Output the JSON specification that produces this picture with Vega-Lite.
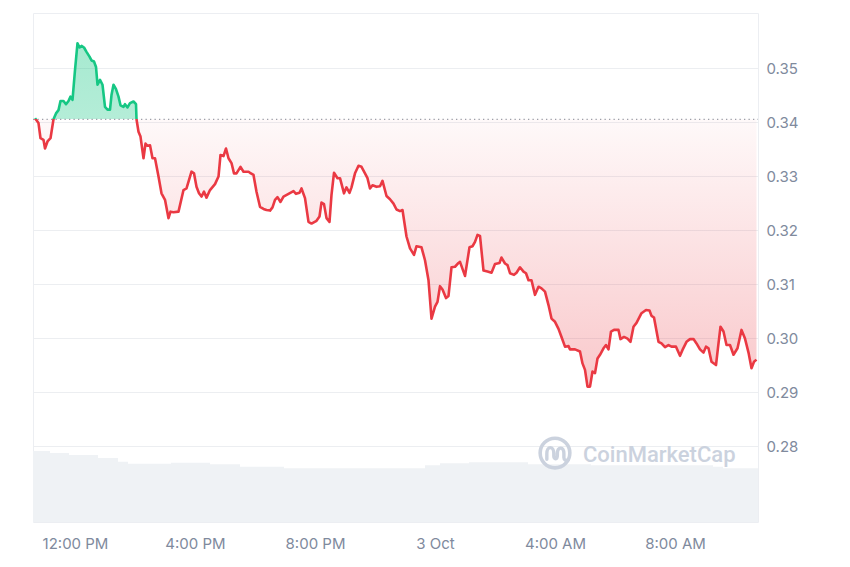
{
  "$schema": "https://vega.github.io/schema/vega-lite/v6.json",
  "width": 725,
  "height": 509,
  "autosize": {"type": "none"},
  "padding": {"left": 33, "top": 13, "right": 92, "bottom": 45},
  "background": "#ffffff",
  "config": {
    "view": {"stroke": "#eceef2", "strokeWidth": 1},
    "font": "Inter",
    "axis": {"labelFont": "Inter", "labelColor": "#808a9d", "labelFontSize": 15, "title": null}
  },
  "datasets": {
    "price": [
      {"t":"2024-10-02T10:40:00Z","p":0.3407},{"t":"2024-10-02T10:47:00Z","p":0.3398},{"t":"2024-10-02T10:51:00Z","p":0.3370},{"t":"2024-10-02T10:57:00Z","p":0.3367},
      {"t":"2024-10-02T11:00:00Z","p":0.3351},{"t":"2024-10-02T11:05:00Z","p":0.3364},{"t":"2024-10-02T11:11:00Z","p":0.3370},{"t":"2024-10-02T11:17:00Z","p":0.3405},
      {"t":"2024-10-02T11:22:00Z","p":0.3416},{"t":"2024-10-02T11:27:00Z","p":0.3422},{"t":"2024-10-02T11:31:00Z","p":0.3439},{"t":"2024-10-02T11:37:00Z","p":0.3439},
      {"t":"2024-10-02T11:42:00Z","p":0.3433},{"t":"2024-10-02T11:47:00Z","p":0.3439},{"t":"2024-10-02T11:51:00Z","p":0.3447},{"t":"2024-10-02T11:55:00Z","p":0.3441},
      {"t":"2024-10-02T12:00:00Z","p":0.3496},{"t":"2024-10-02T12:05:00Z","p":0.3546},{"t":"2024-10-02T12:09:00Z","p":0.3538},{"t":"2024-10-02T12:13:00Z","p":0.3541},
      {"t":"2024-10-02T12:18:00Z","p":0.3538},{"t":"2024-10-02T12:23:00Z","p":0.3530},{"t":"2024-10-02T12:29:00Z","p":0.3521},{"t":"2024-10-02T12:33:00Z","p":0.3514},
      {"t":"2024-10-02T12:38:00Z","p":0.3512},{"t":"2024-10-02T12:42:00Z","p":0.3502},{"t":"2024-10-02T12:45:00Z","p":0.3469},{"t":"2024-10-02T12:50:00Z","p":0.3478},
      {"t":"2024-10-02T12:55:00Z","p":0.3469},{"t":"2024-10-02T13:00:00Z","p":0.3428},{"t":"2024-10-02T13:05:00Z","p":0.3423},{"t":"2024-10-02T13:10:00Z","p":0.3423},
      {"t":"2024-10-02T13:13:00Z","p":0.3450},{"t":"2024-10-02T13:17:00Z","p":0.3469},{"t":"2024-10-02T13:22:00Z","p":0.3461},{"t":"2024-10-02T13:27:00Z","p":0.3447},
      {"t":"2024-10-02T13:31:00Z","p":0.3431},{"t":"2024-10-02T13:37:00Z","p":0.3428},{"t":"2024-10-02T13:40:00Z","p":0.3433},{"t":"2024-10-02T13:45:00Z","p":0.3427},
      {"t":"2024-10-02T13:50:00Z","p":0.3435},{"t":"2024-10-02T13:57:00Z","p":0.3438},{"t":"2024-10-02T14:02:00Z","p":0.3433},{"t":"2024-10-02T14:03:00Z","p":0.3405},
      {"t":"2024-10-02T14:07:00Z","p":0.3382},{"t":"2024-10-02T14:11:00Z","p":0.3373},{"t":"2024-10-02T14:17:00Z","p":0.3333},{"t":"2024-10-02T14:21:00Z","p":0.3360},
      {"t":"2024-10-02T14:25:00Z","p":0.3356},{"t":"2024-10-02T14:30:00Z","p":0.3357},{"t":"2024-10-02T14:35:00Z","p":0.3333},{"t":"2024-10-02T14:40:00Z","p":0.3333},
      {"t":"2024-10-02T14:47:00Z","p":0.3299},{"t":"2024-10-02T14:53:00Z","p":0.3268},{"t":"2024-10-02T15:00:00Z","p":0.3256},{"t":"2024-10-02T15:07:00Z","p":0.3222},
      {"t":"2024-10-02T15:11:00Z","p":0.3234},{"t":"2024-10-02T15:17:00Z","p":0.3233},{"t":"2024-10-02T15:27:00Z","p":0.3234},{"t":"2024-10-02T15:37:00Z","p":0.3274},
      {"t":"2024-10-02T15:43:00Z","p":0.3277},{"t":"2024-10-02T15:53:00Z","p":0.3308},{"t":"2024-10-02T15:58:00Z","p":0.3305},{"t":"2024-10-02T16:03:00Z","p":0.3280},
      {"t":"2024-10-02T16:08:00Z","p":0.3268},{"t":"2024-10-02T16:13:00Z","p":0.3262},{"t":"2024-10-02T16:18:00Z","p":0.3271},{"t":"2024-10-02T16:23:00Z","p":0.3260},
      {"t":"2024-10-02T16:30:00Z","p":0.3274},{"t":"2024-10-02T16:40:00Z","p":0.3285},{"t":"2024-10-02T16:47:00Z","p":0.3299},{"t":"2024-10-02T16:51:00Z","p":0.3339},
      {"t":"2024-10-02T16:57:00Z","p":0.3337},{"t":"2024-10-02T17:02:00Z","p":0.3351},{"t":"2024-10-02T17:07:00Z","p":0.3333},{"t":"2024-10-02T17:13:00Z","p":0.3324},
      {"t":"2024-10-02T17:18:00Z","p":0.3305},{"t":"2024-10-02T17:23:00Z","p":0.3305},{"t":"2024-10-02T17:31:00Z","p":0.3317},{"t":"2024-10-02T17:37:00Z","p":0.3308},
      {"t":"2024-10-02T17:47:00Z","p":0.3308},{"t":"2024-10-02T17:50:00Z","p":0.3306},{"t":"2024-10-02T17:57:00Z","p":0.3302},{"t":"2024-10-02T18:03:00Z","p":0.3271},
      {"t":"2024-10-02T18:10:00Z","p":0.3243},{"t":"2024-10-02T18:17:00Z","p":0.3239},{"t":"2024-10-02T18:23:00Z","p":0.3237},{"t":"2024-10-02T18:30:00Z","p":0.3236},
      {"t":"2024-10-02T18:35:00Z","p":0.3242},{"t":"2024-10-02T18:40:00Z","p":0.3256},{"t":"2024-10-02T18:45:00Z","p":0.3261},{"t":"2024-10-02T18:51:00Z","p":0.3252},
      {"t":"2024-10-02T18:57:00Z","p":0.3262},{"t":"2024-10-02T19:07:00Z","p":0.3267},{"t":"2024-10-02T19:17:00Z","p":0.3272},{"t":"2024-10-02T19:22:00Z","p":0.3267},
      {"t":"2024-10-02T19:29:00Z","p":0.3269},{"t":"2024-10-02T19:33:00Z","p":0.3277},{"t":"2024-10-02T19:40:00Z","p":0.3259},{"t":"2024-10-02T19:47:00Z","p":0.3215},
      {"t":"2024-10-02T19:53:00Z","p":0.3212},{"t":"2024-10-02T20:03:00Z","p":0.3217},{"t":"2024-10-02T20:09:00Z","p":0.3225},{"t":"2024-10-02T20:13:00Z","p":0.3251},
      {"t":"2024-10-02T20:18:00Z","p":0.3248},{"t":"2024-10-02T20:23:00Z","p":0.3222},{"t":"2024-10-02T20:29:00Z","p":0.3215},{"t":"2024-10-02T20:33:00Z","p":0.3265},
      {"t":"2024-10-02T20:38:00Z","p":0.3306},{"t":"2024-10-02T20:45:00Z","p":0.3296},{"t":"2024-10-02T20:50:00Z","p":0.3296},{"t":"2024-10-02T20:58:00Z","p":0.3268},
      {"t":"2024-10-02T21:03:00Z","p":0.3279},{"t":"2024-10-02T21:09:00Z","p":0.3269},{"t":"2024-10-02T21:13:00Z","p":0.3279},{"t":"2024-10-02T21:20:00Z","p":0.3305},
      {"t":"2024-10-02T21:27:00Z","p":0.3319},{"t":"2024-10-02T21:33:00Z","p":0.3317},{"t":"2024-10-02T21:40:00Z","p":0.3305},{"t":"2024-10-02T21:45:00Z","p":0.3296},
      {"t":"2024-10-02T21:50:00Z","p":0.3277},{"t":"2024-10-02T21:55:00Z","p":0.3283},{"t":"2024-10-02T22:03:00Z","p":0.3280},{"t":"2024-10-02T22:10:00Z","p":0.3281},
      {"t":"2024-10-02T22:15:00Z","p":0.3291},{"t":"2024-10-02T22:23:00Z","p":0.3263},{"t":"2024-10-02T22:30:00Z","p":0.3257},{"t":"2024-10-02T22:37:00Z","p":0.3249},
      {"t":"2024-10-02T22:43:00Z","p":0.3238},{"t":"2024-10-02T22:50:00Z","p":0.3235},{"t":"2024-10-02T22:55:00Z","p":0.3237},{"t":"2024-10-02T23:03:00Z","p":0.3188},
      {"t":"2024-10-02T23:10:00Z","p":0.3166},{"t":"2024-10-02T23:18:00Z","p":0.3154},{"t":"2024-10-02T23:23:00Z","p":0.3170},{"t":"2024-10-02T23:33:00Z","p":0.3168},
      {"t":"2024-10-02T23:40:00Z","p":0.3144},{"t":"2024-10-02T23:47:00Z","p":0.3107},{"t":"2024-10-02T23:53:00Z","p":0.3036},
      {"t":"2024-10-03T00:00:00Z","p":0.3058},{"t":"2024-10-03T00:05:00Z","p":0.3067},{"t":"2024-10-03T00:10:00Z","p":0.3096},{"t":"2024-10-03T00:15:00Z","p":0.3090},
      {"t":"2024-10-03T00:22:00Z","p":0.3074},{"t":"2024-10-03T00:27:00Z","p":0.3078},{"t":"2024-10-03T00:33:00Z","p":0.3131},{"t":"2024-10-03T00:40:00Z","p":0.3132},
      {"t":"2024-10-03T00:47:00Z","p":0.3139},{"t":"2024-10-03T00:50:00Z","p":0.3141},{"t":"2024-10-03T01:00:00Z","p":0.3115},{"t":"2024-10-03T01:09:00Z","p":0.3168},
      {"t":"2024-10-03T01:15:00Z","p":0.3170},{"t":"2024-10-03T01:20:00Z","p":0.3178},{"t":"2024-10-03T01:25:00Z","p":0.3191},{"t":"2024-10-03T01:30:00Z","p":0.3189},
      {"t":"2024-10-03T01:37:00Z","p":0.3125},{"t":"2024-10-03T01:45:00Z","p":0.3123},{"t":"2024-10-03T01:53:00Z","p":0.3121},{"t":"2024-10-03T02:00:00Z","p":0.3137},
      {"t":"2024-10-03T02:09:00Z","p":0.3139},{"t":"2024-10-03T02:13:00Z","p":0.3149},{"t":"2024-10-03T02:20:00Z","p":0.3138},{"t":"2024-10-03T02:25:00Z","p":0.3135},
      {"t":"2024-10-03T02:30:00Z","p":0.3120},{"t":"2024-10-03T02:38:00Z","p":0.3117},{"t":"2024-10-03T02:43:00Z","p":0.3121},{"t":"2024-10-03T02:50:00Z","p":0.3131},
      {"t":"2024-10-03T02:57:00Z","p":0.3123},{"t":"2024-10-03T03:02:00Z","p":0.3120},{"t":"2024-10-03T03:07:00Z","p":0.3107},{"t":"2024-10-03T03:13:00Z","p":0.3107},
      {"t":"2024-10-03T03:20:00Z","p":0.3080},{"t":"2024-10-03T03:27:00Z","p":0.3095},{"t":"2024-10-03T03:33:00Z","p":0.3092},{"t":"2024-10-03T03:40:00Z","p":0.3086},
      {"t":"2024-10-03T03:47:00Z","p":0.3061},{"t":"2024-10-03T03:53:00Z","p":0.3036},{"t":"2024-10-03T04:00:00Z","p":0.3030},{"t":"2024-10-03T04:07:00Z","p":0.3017},
      {"t":"2024-10-03T04:13:00Z","p":0.3002},{"t":"2024-10-03T04:20:00Z","p":0.2984},{"t":"2024-10-03T04:27:00Z","p":0.2985},{"t":"2024-10-03T04:30:00Z","p":0.2979},
      {"t":"2024-10-03T04:40:00Z","p":0.2979},{"t":"2024-10-03T04:50:00Z","p":0.2975},{"t":"2024-10-03T04:55:00Z","p":0.2953},{"t":"2024-10-03T05:00:00Z","p":0.2941},
      {"t":"2024-10-03T05:05:00Z","p":0.2910},{"t":"2024-10-03T05:10:00Z","p":0.2910},{"t":"2024-10-03T05:15:00Z","p":0.2938},{"t":"2024-10-03T05:20:00Z","p":0.2935},
      {"t":"2024-10-03T05:25:00Z","p":0.2962},{"t":"2024-10-03T05:30:00Z","p":0.2969},{"t":"2024-10-03T05:37:00Z","p":0.2981},{"t":"2024-10-03T05:42:00Z","p":0.2987},
      {"t":"2024-10-03T05:47:00Z","p":0.2979},{"t":"2024-10-03T05:52:00Z","p":0.3012},{"t":"2024-10-03T05:58:00Z","p":0.3015},{"t":"2024-10-03T06:07:00Z","p":0.3015},
      {"t":"2024-10-03T06:11:00Z","p":0.2998},{"t":"2024-10-03T06:18:00Z","p":0.3002},{"t":"2024-10-03T06:25:00Z","p":0.2999},{"t":"2024-10-03T06:31:00Z","p":0.2993},
      {"t":"2024-10-03T06:37:00Z","p":0.3021},{"t":"2024-10-03T06:43:00Z","p":0.3028},{"t":"2024-10-03T06:53:00Z","p":0.3046},{"t":"2024-10-03T07:02:00Z","p":0.3052},
      {"t":"2024-10-03T07:09:00Z","p":0.3051},{"t":"2024-10-03T07:13:00Z","p":0.3041},{"t":"2024-10-03T07:18:00Z","p":0.3038},{"t":"2024-10-03T07:27:00Z","p":0.2993},
      {"t":"2024-10-03T07:33:00Z","p":0.2990},{"t":"2024-10-03T07:40:00Z","p":0.2983},{"t":"2024-10-03T07:47:00Z","p":0.2987},{"t":"2024-10-03T07:53:00Z","p":0.2984},
      {"t":"2024-10-03T08:02:00Z","p":0.2984},{"t":"2024-10-03T08:10:00Z","p":0.2967},{"t":"2024-10-03T08:15:00Z","p":0.2978},{"t":"2024-10-03T08:23:00Z","p":0.2993},
      {"t":"2024-10-03T08:30:00Z","p":0.2998},{"t":"2024-10-03T08:37:00Z","p":0.2998},{"t":"2024-10-03T08:43:00Z","p":0.2990},{"t":"2024-10-03T08:50:00Z","p":0.2979},
      {"t":"2024-10-03T08:57:00Z","p":0.2973},{"t":"2024-10-03T09:02:00Z","p":0.2984},{"t":"2024-10-03T09:07:00Z","p":0.2981},{"t":"2024-10-03T09:13:00Z","p":0.2956},
      {"t":"2024-10-03T09:22:00Z","p":0.2950},{"t":"2024-10-03T09:27:00Z","p":0.2990},{"t":"2024-10-03T09:31:00Z","p":0.3021},{"t":"2024-10-03T09:37:00Z","p":0.3012},
      {"t":"2024-10-03T09:43:00Z","p":0.2987},{"t":"2024-10-03T09:50:00Z","p":0.2987},{"t":"2024-10-03T09:57:00Z","p":0.2969},{"t":"2024-10-03T10:05:00Z","p":0.2981},
      {"t":"2024-10-03T10:13:00Z","p":0.3015},{"t":"2024-10-03T10:20:00Z","p":0.2999},{"t":"2024-10-03T10:27:00Z","p":0.2973},{"t":"2024-10-03T10:33:00Z","p":0.2944},
      {"t":"2024-10-03T10:38:00Z","p":0.2956},{"t":"2024-10-03T10:43:00Z","p":0.2960}
    ],
    "volume": [
      {"t":"2024-10-02T10:36:00Z","v":97.6},{"t":"2024-10-02T11:10:00Z","v":95},{"t":"2024-10-02T11:48:00Z","v":92},
      {"t":"2024-10-02T12:46:00Z","v":88},{"t":"2024-10-02T13:26:00Z","v":83},{"t":"2024-10-02T13:46:00Z","v":80},
      {"t":"2024-10-02T15:12:00Z","v":81.5},{"t":"2024-10-02T16:30:00Z","v":79.3},{"t":"2024-10-02T17:30:00Z","v":76},
      {"t":"2024-10-02T18:58:00Z","v":73.8},{"t":"2024-10-02T23:40:00Z","v":78},{"t":"2024-10-03T00:10:00Z","v":80.7},
      {"t":"2024-10-03T01:08:00Z","v":82},{"t":"2024-10-03T03:06:00Z","v":79.3},{"t":"2024-10-03T05:12:00Z","v":78},
      {"t":"2024-10-03T09:16:00Z","v":76},{"t":"2024-10-03T09:36:00Z","v":73.8},{"t":"2024-10-03T10:46:00Z","v":73.8}
    ],
    "baseline": [{"t":"2024-10-02T10:36:00Z","base": 0.3405},{"t":"2024-10-03T10:46:00Z","base": 0.3405}],
    "brand": [
      {"t":"2024-10-03T04:00:00Z","p":0.2787,"label":"CoinMarketCap","tx":"2024-10-03T04:56:00Z","ty":0.27833}
    ]
  },
  "layer": [
    {
      "data": {"name": "volume"},
      "mark": {"type": "area", "interpolate": "step-after", "color": "#eff2f5"},
      "encoding": {
        "x": {"field": "t", "type": "temporal", "scale": {"type": "utc", "domain": [{"year":2024,"month":10,"date":2,"hours":10,"minutes":36,"utc":true},{"year":2024,"month":10,"date":3,"hours":10,"minutes":46,"utc":true}]},
          "axis": {"title": null, "values": [{"year":2024,"month":10,"date":2,"hours":12,"utc":true},{"year":2024,"month":10,"date":2,"hours":16,"utc":true},{"year":2024,"month":10,"date":2,"hours":20,"utc":true},{"year":2024,"month":10,"date":3,"hours":0,"utc":true},{"year":2024,"month":10,"date":3,"hours":4,"utc":true},{"year":2024,"month":10,"date":3,"hours":8,"utc":true}], "labelExpr": "utcFormat(datum.value, '%H') == '00' ? utcFormat(datum.value, '%-d %b') : utcFormat(datum.value, '%-I:%M %p')", "domain": false, "ticks": false, "grid": false, "labelPadding": 14, "labelFlush": false}},
        "y": {"field": "v", "type": "quantitative", "scale": {"domain": [0, 700], "nice": false}, "axis": null}
      }
    },
    {
      "data": {"name": "price"},
      "mark": {"type": "area", "fill": {"gradient": "linear", "x1": 0, "y1": 0, "x2": 0, "y2": 1, "stops": [
        {"offset": 0, "color": "rgba(22,199,132,0.38)"},
        {"offset": 0.2217, "color": "rgba(22,199,132,0.32)"},
        {"offset": 0.2217, "color": "rgba(234,57,67,0.03)"},
        {"offset": 1, "color": "rgba(234,57,67,0.28)"}]}},
      "encoding": {
        "x": {"field": "t", "type": "temporal", "scale": {"type": "utc", "domain": [{"year":2024,"month":10,"date":2,"hours":10,"minutes":36,"utc":true},{"year":2024,"month":10,"date":3,"hours":10,"minutes":46,"utc":true}]},
          "axis": {"title": null, "values": [{"year":2024,"month":10,"date":2,"hours":12,"utc":true},{"year":2024,"month":10,"date":2,"hours":16,"utc":true},{"year":2024,"month":10,"date":2,"hours":20,"utc":true},{"year":2024,"month":10,"date":3,"hours":0,"utc":true},{"year":2024,"month":10,"date":3,"hours":4,"utc":true},{"year":2024,"month":10,"date":3,"hours":8,"utc":true}], "labelExpr": "utcFormat(datum.value, '%H') == '00' ? utcFormat(datum.value, '%-d %b') : utcFormat(datum.value, '%-I:%M %p')", "domain": false, "ticks": false, "grid": false, "labelPadding": 14, "labelFlush": false}},
        "y": {"field": "p", "type": "quantitative", "scale": {"domain": [0.26593, 0.36019], "nice": false, "zero": false}, "axis": null},
        "y2": {"datum": 0.3405}
      }
    },
    {
      "data": {"name": "baseline"},
      "mark": {"type": "line", "color": "#9b9fa8", "strokeWidth": 1.2, "strokeDash": [1.3, 3.2]},
      "encoding": {
        "x": {"field": "t", "type": "temporal", "scale": {"type": "utc", "domain": [{"year":2024,"month":10,"date":2,"hours":10,"minutes":36,"utc":true},{"year":2024,"month":10,"date":3,"hours":10,"minutes":46,"utc":true}]},
          "axis": {"title": null, "values": [{"year":2024,"month":10,"date":2,"hours":12,"utc":true},{"year":2024,"month":10,"date":2,"hours":16,"utc":true},{"year":2024,"month":10,"date":2,"hours":20,"utc":true},{"year":2024,"month":10,"date":3,"hours":0,"utc":true},{"year":2024,"month":10,"date":3,"hours":4,"utc":true},{"year":2024,"month":10,"date":3,"hours":8,"utc":true}], "labelExpr": "utcFormat(datum.value, '%H') == '00' ? utcFormat(datum.value, '%-d %b') : utcFormat(datum.value, '%-I:%M %p')", "domain": false, "ticks": false, "grid": false, "labelPadding": 14, "labelFlush": false}},
        "y": {"field": "base", "type": "quantitative", "scale": {"domain": [0.26593, 0.36019], "nice": false, "zero": false}, "axis": null}
      }
    },
    {
      "data": {"name": "price"},
      "mark": {"type": "line", "strokeWidth": 2.6, "strokeJoin": "round", "stroke": {"gradient": "linear", "x1": 0, "y1": 0, "x2": 0, "y2": 1, "stops": [
        {"offset": 0, "color": "#16c784"},
        {"offset": 0.2217, "color": "#16c784"},
        {"offset": 0.2217, "color": "#ea3943"},
        {"offset": 1, "color": "#ea3943"}]}},
      "encoding": {
        "x": {"field": "t", "type": "temporal", "scale": {"type": "utc", "domain": [{"year":2024,"month":10,"date":2,"hours":10,"minutes":36,"utc":true},{"year":2024,"month":10,"date":3,"hours":10,"minutes":46,"utc":true}]},
          "axis": {"title": null, "values": [{"year":2024,"month":10,"date":2,"hours":12,"utc":true},{"year":2024,"month":10,"date":2,"hours":16,"utc":true},{"year":2024,"month":10,"date":2,"hours":20,"utc":true},{"year":2024,"month":10,"date":3,"hours":0,"utc":true},{"year":2024,"month":10,"date":3,"hours":4,"utc":true},{"year":2024,"month":10,"date":3,"hours":8,"utc":true}], "labelExpr": "utcFormat(datum.value, '%H') == '00' ? utcFormat(datum.value, '%-d %b') : utcFormat(datum.value, '%-I:%M %p')", "domain": false, "ticks": false, "grid": false, "labelPadding": 14, "labelFlush": false}},
        "y": {"field": "p", "type": "quantitative", "scale": {"domain": [0.26593, 0.36019], "nice": false, "zero": false},
          "axis": {"title": null, "orient": "right", "values": [0.28, 0.29, 0.30, 0.31, 0.32, 0.33, 0.34, 0.35], "format": ".2f", "domain": false, "ticks": false, "labelPadding": 8, "grid": true, "gridColor": "#eceef1", "gridWidth": 1, "zindex": 0}}
      }
    },
    {
      "data": {"name": "brand"},
      "mark": {"type": "point", "shape": "circle", "filled": false, "size": 880, "strokeWidth": 3.6, "color": "#cbd2de", "opacity": 1},
      "encoding": {
        "x": {"field": "t", "type": "temporal", "scale": {"type": "utc", "domain": [{"year":2024,"month":10,"date":2,"hours":10,"minutes":36,"utc":true},{"year":2024,"month":10,"date":3,"hours":10,"minutes":46,"utc":true}]},
          "axis": {"title": null, "values": [{"year":2024,"month":10,"date":2,"hours":12,"utc":true},{"year":2024,"month":10,"date":2,"hours":16,"utc":true},{"year":2024,"month":10,"date":2,"hours":20,"utc":true},{"year":2024,"month":10,"date":3,"hours":0,"utc":true},{"year":2024,"month":10,"date":3,"hours":4,"utc":true},{"year":2024,"month":10,"date":3,"hours":8,"utc":true}], "labelExpr": "utcFormat(datum.value, '%H') == '00' ? utcFormat(datum.value, '%-d %b') : utcFormat(datum.value, '%-I:%M %p')", "domain": false, "ticks": false, "grid": false, "labelPadding": 14, "labelFlush": false}},
        "y": {"field": "p", "type": "quantitative", "scale": {"domain": [0.26593, 0.36019], "nice": false, "zero": false}, "axis": null}
      }
    },
    {
      "data": {"name": "brand"},
      "mark": {"type": "point", "shape": "M-0.55,0.42 L-0.55,0.05 C-0.55,-0.5 -0.08,-0.5 -0.08,0.05 L-0.08,0.2 C-0.08,0.45 0.16,0.45 0.16,0.15 L0.16,0 C0.16,-0.45 0.6,-0.45 0.6,0.05 L0.6,0.3 C0.6,0.5 0.75,0.55 0.9,0.45", "filled": false, "size": 880, "strokeWidth": 3.4, "strokeCap": "round", "color": "#cbd2de", "opacity": 1},
      "encoding": {
        "x": {"field": "t", "type": "temporal", "scale": {"type": "utc", "domain": [{"year":2024,"month":10,"date":2,"hours":10,"minutes":36,"utc":true},{"year":2024,"month":10,"date":3,"hours":10,"minutes":46,"utc":true}]},
          "axis": {"title": null, "values": [{"year":2024,"month":10,"date":2,"hours":12,"utc":true},{"year":2024,"month":10,"date":2,"hours":16,"utc":true},{"year":2024,"month":10,"date":2,"hours":20,"utc":true},{"year":2024,"month":10,"date":3,"hours":0,"utc":true},{"year":2024,"month":10,"date":3,"hours":4,"utc":true},{"year":2024,"month":10,"date":3,"hours":8,"utc":true}], "labelExpr": "utcFormat(datum.value, '%H') == '00' ? utcFormat(datum.value, '%-d %b') : utcFormat(datum.value, '%-I:%M %p')", "domain": false, "ticks": false, "grid": false, "labelPadding": 14, "labelFlush": false}},
        "y": {"field": "p", "type": "quantitative", "scale": {"domain": [0.26593, 0.36019], "nice": false, "zero": false}, "axis": null}
      }
    },
    {
      "data": {"name": "brand"},
      "mark": {"type": "text", "align": "left", "baseline": "middle", "font": "Roboto", "fontSize": 22, "fontWeight": 500, "color": "#cbd2de"},
      "encoding": {
        "x": {"field": "tx", "type": "temporal", "scale": {"type": "utc", "domain": [{"year":2024,"month":10,"date":2,"hours":10,"minutes":36,"utc":true},{"year":2024,"month":10,"date":3,"hours":10,"minutes":46,"utc":true}]},
          "axis": {"title": null, "values": [{"year":2024,"month":10,"date":2,"hours":12,"utc":true},{"year":2024,"month":10,"date":2,"hours":16,"utc":true},{"year":2024,"month":10,"date":2,"hours":20,"utc":true},{"year":2024,"month":10,"date":3,"hours":0,"utc":true},{"year":2024,"month":10,"date":3,"hours":4,"utc":true},{"year":2024,"month":10,"date":3,"hours":8,"utc":true}], "labelExpr": "utcFormat(datum.value, '%H') == '00' ? utcFormat(datum.value, '%-d %b') : utcFormat(datum.value, '%-I:%M %p')", "domain": false, "ticks": false, "grid": false, "labelPadding": 14, "labelFlush": false}},
        "y": {"field": "ty", "type": "quantitative", "scale": {"domain": [0.26593, 0.36019], "nice": false, "zero": false}, "axis": null},
        "text": {"field": "label"}
      }
    }
  ],
  "resolve": {"scale": {"y": "independent"}}
}
